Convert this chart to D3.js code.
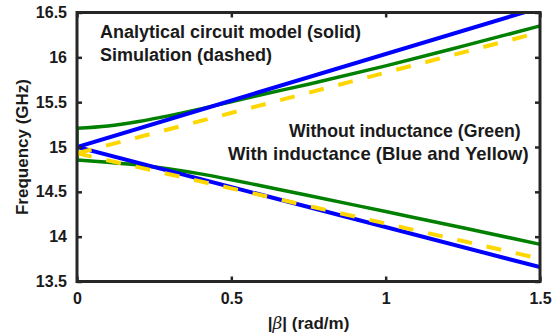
<!DOCTYPE html>
<html>
<head>
<meta charset="utf-8">
<script src="https://cdn.jsdelivr.net/npm/d3@7"></script>
<style>
  body { margin: 0; background: #fff; }
  svg text { font-family: "Liberation Sans", Arial, sans-serif; font-weight: bold; fill: #1a1a1a; }
</style>
</head>
<body>
<div id="chart"></div>
<script>
// beta (rad/m) sample points
const beta = [0, 0.1, 0.2, 0.3, 0.4, 0.5, 0.6, 0.75, 1, 1.25, 1.5];

// analytical model, without inductance (green)
const greenUpper = [15.21, 15.235, 15.285, 15.35, 15.425, 15.505, 15.585, 15.70, 15.905, 16.125, 16.35];
const greenLower = [14.855, 14.83, 14.80, 14.755, 14.70, 14.635, 14.565, 14.46, 14.28, 14.10, 13.915];

// analytical model, with inductance (blue)
const blueBeta = [0, 1.5];
const blueUpper = [15.0, 16.555];
const blueLower = [15.0, 13.66];

// simulation, with inductance (yellow, dashed)
const yellowBeta = [0, 1.5];
const yellowUpper = [14.93, 16.28];
const yellowLower = [14.93, 13.755];

const xTicks = [0, 0.5, 1, 1.5];
const yTicks = [13.5, 14, 14.5, 15, 15.5, 16, 16.5];

const W = 552, H = 335;
const margin = { top: 12.5, right: 12, bottom: 53.5, left: 77 };
const width = W - margin.left - margin.right;
const height = H - margin.top - margin.bottom;

const svg = d3.select("#chart").append("svg")
  .attr("width", W).attr("height", H);

const g = svg.append("g")
  .attr("transform", `translate(${margin.left},${margin.top})`);

const x = d3.scaleLinear().domain([0, 1.5]).range([0, width]);
const y = d3.scaleLinear().domain([13.5, 16.5]).range([height, 0]);

g.append("clipPath").attr("id", "plot-clip")
  .append("rect").attr("width", width).attr("height", height);

const line = d3.line().x(d => x(d[0])).y(d => y(d[1]));
const smooth = d3.line().x(d => x(d[0])).y(d => y(d[1])).curve(d3.curveMonotoneX);
const plot = g.append("g").attr("clip-path", "url(#plot-clip)");

// green: two branches joined by the vertical edge at beta = 0
const greenUp = beta.map((b, i) => [b, greenUpper[i]]);
const greenLo = beta.map((b, i) => [b, greenLower[i]]);
[greenUp, greenLo].forEach(pts => {
  plot.append("path").datum(pts)
    .attr("fill", "none").attr("stroke", "#008000").attr("stroke-width", 3.5)
    .attr("d", smooth);
});
plot.append("path").datum([greenUp[0], greenLo[0]])
  .attr("fill", "none").attr("stroke", "#008000").attr("stroke-width", 3.5)
  .attr("stroke-linecap", "square")
  .attr("d", line);

const bluePts = blueBeta.map((b, i) => [b, blueUpper[i]]).reverse()
  .concat(blueBeta.map((b, i) => [b, blueLower[i]]));
plot.append("path").datum(bluePts)
  .attr("fill", "none").attr("stroke", "#0000ff")
  .attr("stroke-width", 4)
  .attr("d", line);

[yellowUpper, yellowLower].forEach(vals => {
  plot.append("path").datum(yellowBeta.map((b, i) => [b, vals[i]]))
    .attr("fill", "none").attr("stroke", "#ffd700")
    .attr("stroke-width", 4).attr("stroke-dasharray", "15,15")
    .attr("d", line);
});

// axes, ticks pointing inward on all four sides
const axisColor = "#262626";
const xAxisG = g.append("g").attr("transform", `translate(0,${height})`)
  .call(d3.axisBottom(x).tickValues(xTicks).tickFormat(d3.format("~g"))
    .tickSizeInner(-5).tickSizeOuter(0).tickPadding(11));
const yAxisG = g.append("g")
  .call(d3.axisLeft(y).tickValues(yTicks).tickFormat(d3.format("~g"))
    .tickSizeInner(-5).tickSizeOuter(0).tickPadding(10));
const topG = g.append("g")
  .call(d3.axisTop(x).tickValues(xTicks).tickFormat("").tickSizeInner(-5).tickSizeOuter(0));
const rightG = g.append("g").attr("transform", `translate(${width},0)`)
  .call(d3.axisRight(y).tickValues(yTicks).tickFormat("").tickSizeInner(-5).tickSizeOuter(0));

[xAxisG, yAxisG, topG, rightG].forEach(a => {
  a.select(".domain").remove();
  a.selectAll(".tick line").attr("stroke", axisColor).attr("stroke-width", 2.5);
  a.selectAll(".tick text").style("font-size", "16px");
});

g.append("rect").attr("width", width).attr("height", height)
  .attr("fill", "none").attr("stroke", axisColor).attr("stroke-width", 3);

// axis labels
g.append("text")
  .attr("transform", "rotate(-90)")
  .attr("x", -(147 - margin.top)).attr("y", -margin.left + 28)
  .attr("text-anchor", "middle").style("font-size", "17px")
  .text("Frequency (GHz)");

const xl = g.append("text")
  .attr("x", width / 2).attr("y", height + 47)
  .attr("text-anchor", "middle").style("font-size", "17px");
xl.append("tspan").text("|");
xl.append("tspan").style("font-style", "italic").style("font-family", "'DejaVu Serif', serif")
  .style("font-weight", "normal").text("β");
xl.append("tspan").text("| (rad/m)");

// annotations
const notes = [
  { text: "Analytical circuit model (solid)", x: 100, y: 38, size: 18 },
  { text: "Simulation (dashed)", x: 100, y: 61, size: 18 },
  { text: "Without inductance (Green)", x: 289, y: 137, size: 17.7 },
  { text: "With inductance (Blue and Yellow)", x: 228, y: 160, size: 18.5 }
];
svg.selectAll(".note").data(notes).enter().append("text")
  .attr("class", "note")
  .attr("x", d => d.x).attr("y", d => d.y)
  .style("font-size", d => d.size + "px")
  .text(d => d.text);
</script>
</body>
</html>
